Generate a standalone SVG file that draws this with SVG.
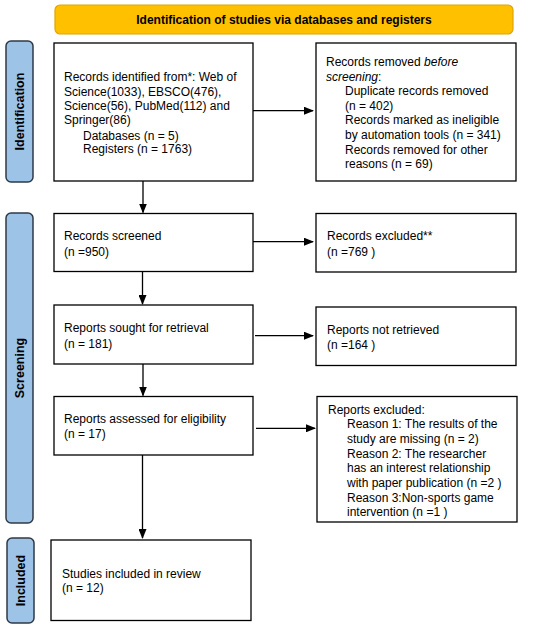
<svg xmlns="http://www.w3.org/2000/svg" width="550" height="628" viewBox="0 0 550 628">
<defs>
<marker id="ah" markerWidth="10" markerHeight="8" refX="9" refY="4" orient="auto" markerUnits="userSpaceOnUse">
<path d="M0,0 L10,4 L0,8 Z" fill="#000"/>
</marker>
</defs>
<style>
.box{fill:#fff;stroke:#000;stroke-width:1.3}
.side{fill:#9DC3E6;stroke:#2F3A46;stroke-width:1.5}
.hdr{fill:#FFC000;stroke:#E0A500;stroke-width:1.2}
.t{font-family:"Liberation Sans",Arial,sans-serif;font-size:12px;fill:#000}
.b{font-family:"Liberation Sans",Arial,sans-serif;font-size:12px;font-weight:bold;fill:#000}
.sl{font-family:"Liberation Sans",Arial,sans-serif;font-size:12.5px;font-weight:bold;fill:#000}
.c{stroke:#000;stroke-width:1.3;fill:none;marker-end:url(#ah)}
</style>
<rect width="550" height="628" fill="#fff"/>
<g id="header">
<rect class="hdr" x="55" y="5" width="458" height="29" rx="5"/>
<text class="b" x="284" y="24" text-anchor="middle">Identification of studies via databases and registers</text>
</g>
<g id="label-identification">
<rect class="side" x="6" y="41" width="27" height="141" rx="5"/>
<text class="sl" transform="translate(24,111.5) rotate(-90)" text-anchor="middle">Identification</text>
</g>
<g id="label-screening">
<rect class="side" x="6" y="213" width="27" height="310" rx="5"/>
<text class="sl" transform="translate(24,368) rotate(-90)" text-anchor="middle">Screening</text>
</g>
<g id="label-included">
<rect class="side" x="7" y="538" width="27" height="85" rx="5"/>
<text class="sl" transform="translate(25,580.5) rotate(-90)" text-anchor="middle">Included</text>
</g>
<g id="records-identified">
<rect class="box" x="54" y="43" width="199" height="138"/>
<text class="t" x="64" y="81">Records identified from*: Web of</text>
<text class="t" x="64" y="95.5">Science(1033), EBSCO(476),</text>
<text class="t" x="64" y="110">Science(56), PubMed(112) and</text>
<text class="t" x="64" y="124">Springer(86)</text>
<text class="t" x="83" y="139.5">Databases (n = 5)</text>
<text class="t" x="83" y="153">Registers (n = 1763)</text>
</g>
<g id="records-removed">
<rect class="box" x="316" y="43" width="200" height="138"/>
<text class="t" x="326" y="65.5">Records removed <tspan font-style="italic">before</tspan></text>
<text class="t" x="326" y="80.5"><tspan font-style="italic">screening</tspan>:</text>
<text class="t" x="345" y="95">Duplicate records removed</text>
<text class="t" x="345" y="109.5">(n = 402)</text>
<text class="t" x="345" y="123.5">Records marked as ineligible</text>
<text class="t" x="345" y="139">by automation tools (n = 341)</text>
<text class="t" x="345" y="153.5">Records removed for other</text>
<text class="t" x="345" y="168">reasons (n = 69)</text>
</g>
<g id="records-screened">
<rect class="box" x="54" y="213.5" width="199" height="58"/>
<text class="t" x="64" y="239.5">Records screened</text>
<text class="t" x="64" y="255.5">(n =950)</text>
</g>
<g id="records-excluded">
<rect class="box" x="316" y="213.5" width="200" height="58.5"/>
<text class="t" x="327" y="239.5">Records excluded**</text>
<text class="t" x="327" y="255.5">(n =769 )</text>
</g>
<g id="reports-sought">
<rect class="box" x="54" y="305" width="199" height="59"/>
<text class="t" x="64" y="331.5">Reports sought for retrieval</text>
<text class="t" x="64" y="348">(n = 181)</text>
</g>
<g id="reports-not-retrieved">
<rect class="box" x="316" y="307" width="200" height="58.5"/>
<text class="t" x="327" y="333.5">Reports not retrieved</text>
<text class="t" x="327" y="348.5">(n =164 )</text>
</g>
<g id="reports-assessed">
<rect class="box" x="54" y="396.5" width="199" height="58.5"/>
<text class="t" x="64" y="422.5">Reports assessed for eligibility</text>
<text class="t" x="64" y="437.5">(n = 17)</text>
</g>
<g id="reports-excluded">
<rect class="box" x="317" y="396.5" width="200" height="125.5"/>
<text class="t" x="328" y="413.5">Reports excluded:</text>
<text class="t" x="347" y="428">Reason 1: The results of the</text>
<text class="t" x="347" y="443">study are missing (n = 2)</text>
<text class="t" x="347" y="457.5">Reason 2: The researcher</text>
<text class="t" x="347" y="472">has an interest relationship</text>
<text class="t" x="347" y="486.5">with paper publication (n =2 )</text>
<text class="t" x="347" y="501.5">Reason 3:Non-sports game</text>
<text class="t" x="347" y="515.5">intervention (n =1 )</text>
</g>
<g id="studies-included">
<rect class="box" x="51" y="540" width="200" height="80.5"/>
<text class="t" x="62" y="577.5">Studies included in review</text>
<text class="t" x="62" y="592">(n = 12)</text>
</g>
<g id="connectors">
<line class="c" x1="253" y1="110.7" x2="313" y2="110.7"/>
<line class="c" x1="143" y1="181" x2="143" y2="212.5"/>
<line class="c" x1="253" y1="241.7" x2="313" y2="241.7"/>
<line class="c" x1="142.5" y1="271.5" x2="142.5" y2="304"/>
<line class="c" x1="255" y1="335.7" x2="313" y2="335.7"/>
<line class="c" x1="143" y1="364" x2="143" y2="395.5"/>
<line class="c" x1="256" y1="428.3" x2="315" y2="428.3"/>
<line class="c" x1="142.5" y1="455" x2="142.5" y2="538"/>
</g>
</svg>
